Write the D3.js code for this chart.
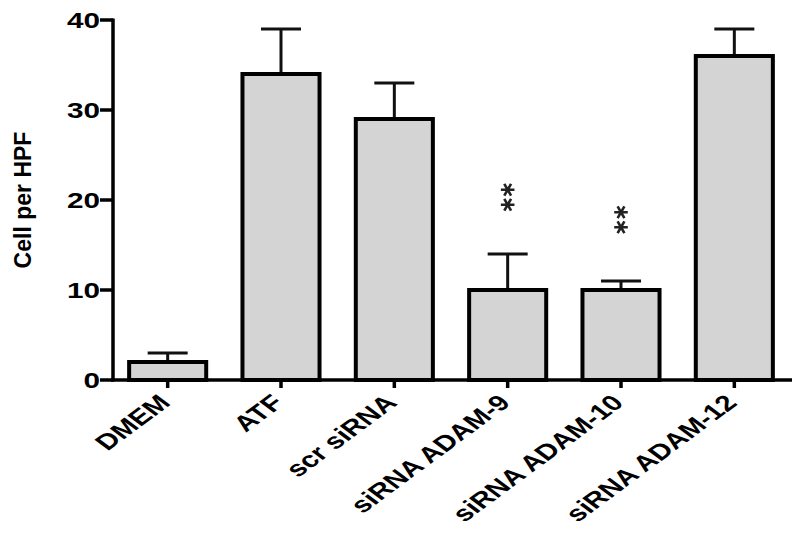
<!DOCTYPE html>
<html>
<head>
<meta charset="utf-8">
<script src="https://cdn.jsdelivr.net/npm/d3@7"></script>
<style>
  body { margin: 0; background: #fff; }
  svg { display: block; font-family: Arial, "Liberation Sans", sans-serif; }
</style>
</head>
<body>
<svg id="chart"></svg>
<script>
// values
const groups = ["DMEM", "ATF", "scr siRNA", "siRNA ADAM-9", "siRNA ADAM-10", "siRNA ADAM-12"];
const means = [2, 34, 29, 10, 10, 36];
const errors = [1, 5, 4, 4, 1, 3];
const yTicks = [0, 10, 20, 30, 40];
// significance marks: group and the level where the pair of stars sits
const sigGroups = ["siRNA ADAM-9", "siRNA ADAM-10"];
const sigLevels = [20.3, 17.8];

var width = 800,
    height = 543,
    stretch = 1.35; // the figure text is widened horizontally

const svg = d3.select("#chart").attr("width", width).attr("height", height);

let x = d3.scaleBand()
    .domain(groups)
    .range([111, 791])
    .paddingInner(0.32)
    .paddingOuter(0.16);

let y = d3.scaleLinear().domain([0, 40]).range([380, 20]);

// bars
svg.selectAll("rect.bar")
    .data(groups)
    .enter()
    .append("rect")
    .attr("class", "bar")
    .attr("x", d => x(d))
    .attr("width", x.bandwidth())
    .attr("y", (d, i) => y(means[i]))
    .attr("height", (d, i) => y(0) - y(means[i]))
    .style("fill", "#d4d4d4")
    .style("stroke", "#000")
    .style("stroke-width", 4);

// error bars (upper only)
const err = svg.append("g").style("stroke", "#111").style("stroke-width", 3);
groups.forEach(function(g, i) {
    const cx = x(g) + x.bandwidth() / 2;
    err.append("line")
        .attr("x1", cx).attr("x2", cx)
        .attr("y1", y(means[i]) - 2).attr("y2", y(means[i] + errors[i]));
    err.append("line")
        .attr("x1", cx - 20).attr("x2", cx + 20)
        .attr("y1", y(means[i] + errors[i])).attr("y2", y(means[i] + errors[i]));
});

// axes
const axes = svg.append("g").style("stroke", "#000").style("stroke-width", 3.5);
axes.append("line")
    .attr("x1", 113).attr("x2", 113)
    .attr("y1", y(40) - 1.5).attr("y2", y(0) + 1.5);
axes.append("line")
    .attr("x1", 111).attr("x2", 792)
    .attr("y1", y(0)).attr("y2", y(0));

axes.selectAll("line.ytick")
    .data(yTicks)
    .enter()
    .append("line")
    .attr("class", "ytick")
    .attr("x1", 100).attr("x2", 113)
    .attr("y1", d => y(d)).attr("y2", d => y(d));

axes.selectAll("line.xtick")
    .data(groups)
    .enter()
    .append("line")
    .attr("class", "xtick")
    .attr("x1", d => x(d) + x.bandwidth() / 2)
    .attr("x2", d => x(d) + x.bandwidth() / 2)
    .attr("y1", y(0)).attr("y2", y(0) + 8);

// y tick labels
svg.selectAll("text.ylab")
    .data(yTicks)
    .enter()
    .append("text")
    .attr("class", "ylab")
    .attr("transform", d => "translate(100," + (y(d) + 7.8) + ") scale(" + stretch + ",1)")
    .attr("text-anchor", "end")
    .style("font-size", "22px")
    .style("font-weight", "bold")
    .text(d => d);

// x labels, rotated
svg.selectAll("text.xlab")
    .data(groups)
    .enter()
    .append("text")
    .attr("class", "xlab")
    .attr("transform", d => "translate(" + (x(d) + x.bandwidth() / 2 + 4) + ",404) scale(" + stretch + ",1) rotate(-45)")
    .attr("text-anchor", "end")
    .style("font-size", "22px")
    .style("font-weight", "bold")
    .text(d => d);

// y axis title
svg.append("text")
    .attr("transform", "translate(31,200) rotate(-90)")
    .attr("text-anchor", "middle")
    .style("font-size", "23px")
    .style("font-weight", "bold")
    .text("Cell per HPF");

// significance stars
const star = d3.symbol().type(d3.symbolAsterisk).size(130);
sigGroups.forEach(function(g, i) {
    const cx = x(g) + x.bandwidth() / 2;
    [-7.5, 7.5].forEach(function(off) {
        svg.append("path")
            .attr("d", star())
            .attr("transform", "translate(" + cx + "," + (y(sigLevels[i]) + off) + ") rotate(90)")
            .style("fill", "none")
            .style("stroke", "#222")
            .style("stroke-width", 2.6);
    });
});
</script>
</body>
</html>
